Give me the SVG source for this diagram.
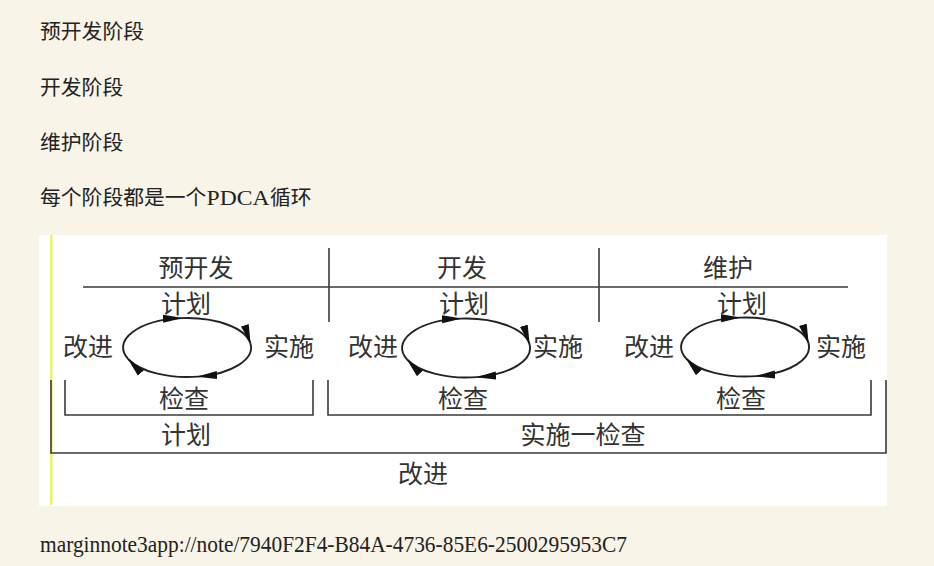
<svg xmlns="http://www.w3.org/2000/svg" width="934" height="566" viewBox="0 0 934 566">
<style>
.para{font-family:"Noto Sans CJK SC","Liberation Sans",sans-serif;font-size:20.8px;fill:#222}
.lat{font-family:"Liberation Serif","Noto Sans CJK SC",serif;fill:#222}
.lbl{font-family:"Noto Sans CJK SC","Noto Sans CJK TC",sans-serif;font-size:25px;fill:#333;text-anchor:middle}
.ln{stroke:#3a3a3a;stroke-width:1.6;fill:none}
.arc{stroke:#222;stroke-width:1.9;fill:none;marker-end:url(#ah)}
</style>
<defs>
<marker id="ah" markerUnits="userSpaceOnUse" markerWidth="22" markerHeight="12" refX="19" refY="4.5" orient="auto">
<path d="M0,0.5 L20,4.5 L0,8.5 Z" fill="#111"/>
</marker>
</defs>
<rect width="934" height="566" fill="#f8f4e8"/>
<text class="para" x="40" y="39">预开发阶段</text>
<text class="para" x="40" y="94.5">开发阶段</text>
<text class="para" x="40" y="149.5">维护阶段</text>
<text class="para" y="205"><tspan x="40">每个阶段都是一个</tspan><tspan x="206.5" class="lat" font-size="21.5" textLength="63" lengthAdjust="spacingAndGlyphs">PDCA</tspan><tspan x="270">循环</tspan></text>
<rect x="39" y="235" width="848" height="271" fill="#ffffff"/>
<rect x="50" y="235" width="2.5" height="270" fill="#eef26a"/>
<g id="frame">
<line class="ln" x1="83" y1="287" x2="848" y2="287"/>
<line class="ln" x1="329" y1="248" x2="329" y2="322"/>
<line class="ln" x1="599" y1="248" x2="599" y2="322"/>
<polyline class="ln" points="65,380 65,415 313,415 313,380"/>
<polyline class="ln" points="328,380 328,415 871,415 871,380"/>
<polyline class="ln" points="51,380 51,453 886,453 886,380"/>
</g>
<g id="phase-pre">
<text class="lbl" x="196" y="277">预开发</text>
<text class="lbl" x="186" y="313">计划</text>
<text class="lbl" x="88" y="356">改进</text>
<text class="lbl" x="289" y="356">实施</text>
<text class="lbl" x="184" y="408">检查</text>
</g>
<g id="phase-dev">
<text class="lbl" x="462" y="277">开发</text>
<text class="lbl" x="464" y="313">计划</text>
<text class="lbl" x="373" y="356">改进</text>
<text class="lbl" x="558" y="356">实施</text>
<text class="lbl" x="463" y="408">检查</text>
</g>
<g id="phase-maint">
<text class="lbl" x="728" y="277">维护</text>
<text class="lbl" x="742" y="313">计划</text>
<text class="lbl" x="649" y="356">改进</text>
<text class="lbl" x="841" y="356">实施</text>
<text class="lbl" x="741" y="408">检查</text>
</g>
<g id="bottom-labels">
<text class="lbl" x="186" y="444">计划</text>
<text class="lbl" x="583" y="444">实施一检查</text>
<text class="lbl" x="423" y="483">改进</text>
</g>
<g id="connectors">
<g transform="translate(187,347.5)">
<path class="arc" d="M-5,-29.4 A64,29.5 0 0 1 63.4,-4.1"/>
<path class="arc" d="M63.4,-4.1 A64,29.5 0 0 1 11.1,29.1"/>
<path class="arc" d="M11.1,29.1 A64,29.5 0 0 1 -58.9,11.5"/>
<path class="arc" d="M-58.9,11.5 A64,29.5 0 0 1 -5,-29.4"/>
</g>
<g transform="translate(466,348)">
<path class="arc" d="M-5,-29.4 A64,29.5 0 0 1 63.4,-4.1"/>
<path class="arc" d="M63.4,-4.1 A64,29.5 0 0 1 11.1,29.1"/>
<path class="arc" d="M11.1,29.1 A64,29.5 0 0 1 -58.9,11.5"/>
<path class="arc" d="M-58.9,11.5 A64,29.5 0 0 1 -5,-29.4"/>
</g>
<g transform="translate(745,347)">
<path class="arc" d="M-5,-29.4 A64,29.5 0 0 1 63.4,-4.1"/>
<path class="arc" d="M63.4,-4.1 A64,29.5 0 0 1 11.1,29.1"/>
<path class="arc" d="M11.1,29.1 A64,29.5 0 0 1 -58.9,11.5"/>
<path class="arc" d="M-58.9,11.5 A64,29.5 0 0 1 -5,-29.4"/>
</g>
</g>
<text class="lat" x="40" y="552" font-size="23.5" textLength="587" lengthAdjust="spacingAndGlyphs">marginnote3app://note/7940F2F4-B84A-4736-85E6-2500295953C7</text>
</svg>
